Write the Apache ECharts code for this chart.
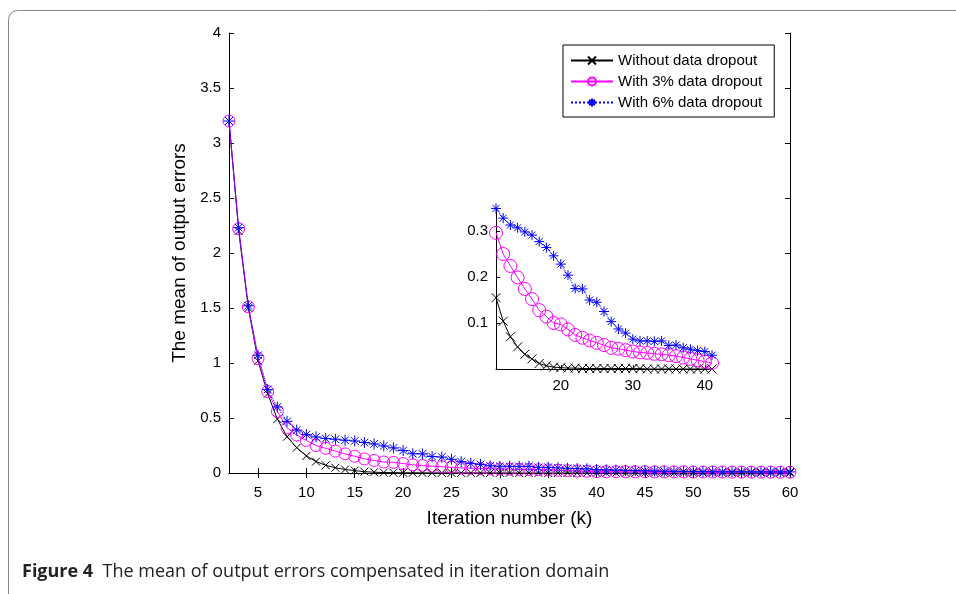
<!DOCTYPE html>
<html>
<head>
<meta charset="utf-8">
<script src="https://cdn.jsdelivr.net/npm/echarts@6/dist/echarts.min.js"></script>
<style>
  html, body { margin: 0; padding: 0; background: #fff; }
  #chart { width: 956px; height: 594px; }
</style>
</head>
<body>
<div id="chart"></div>
<script>
// iteration k = 2..60
const iterations = [2, 3, 4, 5, 6, 7, 8, 9, 10, 11, 12, 13, 14, 15, 16, 17, 18, 19, 20, 21,
  22, 23, 24, 25, 26, 27, 28, 29, 30, 31, 32, 33, 34, 35, 36, 37, 38, 39, 40, 41,
  42, 43, 44, 45, 46, 47, 48, 49, 50, 51, 52, 53, 54, 55, 56, 57, 58, 59, 60];

const withoutDropout = [3.2, 2.2, 1.5, 1.02, 0.72, 0.49, 0.33, 0.23, 0.155, 0.104, 0.07, 0.048, 0.032, 0.022, 0.012, 0.007, 0.004, 0.003, 0.002, 0.002,
  0.001, 0.001, 0.001, 0.001, 0.001, 0.001, 0.001, 0.001, 0.001, 0, 0, 0, 0, 0, 0, 0, 0, 0, 0, 0,
  0, 0, 0, 0, 0, 0, 0, 0, 0, 0, 0, 0, 0, 0, 0, 0, 0, 0, 0];

const dropout3 = [3.2, 2.22, 1.51, 1.04, 0.74, 0.56, 0.41, 0.345, 0.296, 0.25, 0.224, 0.199, 0.174, 0.152, 0.128, 0.114, 0.10, 0.097, 0.086, 0.074,
  0.068, 0.062, 0.057, 0.052, 0.046, 0.044, 0.041, 0.038, 0.036, 0.035, 0.033, 0.032, 0.030, 0.028, 0.025, 0.022, 0.019, 0.016, 0.013, 0.012,
  0.012, 0.011, 0.011, 0.011, 0.010, 0.010, 0.010, 0.010, 0.009, 0.009, 0.009, 0.009, 0.008, 0.008, 0.008, 0.008, 0.008, 0.007, 0.007];

const dropout6 = [3.2, 2.23, 1.52, 1.07, 0.76, 0.60, 0.47, 0.39, 0.349, 0.328, 0.313, 0.307, 0.298, 0.291, 0.277, 0.264, 0.246, 0.228, 0.204, 0.175,
  0.174, 0.15, 0.145, 0.125, 0.103, 0.087, 0.078, 0.065, 0.061, 0.061, 0.060, 0.061, 0.051, 0.052, 0.046, 0.043, 0.040, 0.038, 0.030, 0.028,
  0.026, 0.024, 0.022, 0.020, 0.018, 0.016, 0.015, 0.014, 0.013, 0.012, 0.012, 0.011, 0.011, 0.011, 0.010, 0.010, 0.010, 0.010, 0.010];

const seriesNames = ['Without data dropout', 'With 3% data dropout', 'With 6% data dropout'];

const xTicks = [5, 10, 15, 20, 25, 30, 35, 40, 45, 50, 55, 60];

// zoomed view: iterations 10..40 of the main curves, drawn on an axis labelled 11..41
const insetFrom = 10;
const insetIterations = [11, 12, 13, 14, 15, 16, 17, 18, 19, 20, 21, 22, 23, 24, 25, 26,
  27, 28, 29, 30, 31, 32, 33, 34, 35, 36, 37, 38, 39, 40, 41];
const insetXTicks = [20, 30, 40];
const insetYTicks = [0.1, 0.2, 0.3];

const FONT = 'Liberation Sans';
const CROSS = 'path://M0,0L10,10M10,0L0,10';
const STAR = 'path://M5,0L5,10M0,5L10,5M1.5,1.5L8.5,8.5M8.5,1.5L1.5,8.5';

const pairs = (values) => iterations.map((k, i) => [k, values[i]]);
const insetPairs = (values) => {
  const start = iterations.indexOf(insetFrom);
  return insetIterations.map((k, i) => [k, values[start + i]]);
};

const styles = [
  { color: '#000000', symbol: CROSS, size: 8, insetSize: 9, type: 'solid', fill: '#000000' },
  { color: '#ff00ff', symbol: 'circle', size: 12, insetSize: 13, type: 'solid', fill: 'rgba(255,255,255,0)' },
  { color: '#0000ff', symbol: STAR, size: 11, insetSize: 10, type: 'dotted', fill: '#0000ff' }
];

const makeSeries = (idx, axisIdx, data, size) => ({
  name: seriesNames[idx],
  type: 'line',
  xAxisIndex: axisIdx,
  yAxisIndex: axisIdx,
  data: data,
  symbol: styles[idx].symbol,
  symbolSize: size,
  showAllSymbol: true,
  animation: false,
  lineStyle: { color: styles[idx].color, width: 1, type: styles[idx].type },
  itemStyle: { color: styles[idx].fill, borderColor: styles[idx].color, borderWidth: 1 },
  emphasis: { disabled: true },
  z: 3 + idx
});

const tickLabel = { color: '#000', fontFamily: FONT, fontSize: 15 };
const axisLine = { show: true, lineStyle: { color: '#000', width: 1 } };

const chart = echarts.init(document.getElementById('chart'));
chart.setOption({
  backgroundColor: '#fff',
  animation: false,
  grid: [
    { left: 229, top: 33, right: 166, bottom: 121 },
    { left: 496, top: 208, width: 216, height: 161 }
  ],
  legend: {
    data: seriesNames,
    orient: 'vertical',
    left: 563,
    top: 45,
    padding: [8, 12, 7, 7],
    itemWidth: 42,
    itemHeight: 10,
    itemGap: 6,
    backgroundColor: '#fff',
    borderColor: '#000',
    borderWidth: 1,
    textStyle: { color: '#000', fontFamily: FONT, fontSize: 15 }
  },
  xAxis: [
    {
      type: 'value', gridIndex: 0, min: 2, max: 60,
      name: 'Iteration number (k)', nameLocation: 'middle', nameGap: 36,
      nameTextStyle: { color: '#000', fontFamily: FONT, fontSize: 19 },
      axisLine: axisLine,
      axisTick: { inside: true, length: 5, customValues: xTicks, lineStyle: { color: '#000' } },
      axisLabel: Object.assign({ customValues: xTicks, margin: 12 }, tickLabel),
      splitLine: { show: false }
    },
    {
      type: 'value', gridIndex: 1, min: 11, max: 41,
      axisLine: axisLine,
      axisTick: { inside: true, length: 4, customValues: insetXTicks, lineStyle: { color: '#000' } },
      axisLabel: Object.assign({ customValues: insetXTicks, margin: 9 }, tickLabel),
      splitLine: { show: false }
    },
    {
      type: 'value', gridIndex: 0, min: 2, max: 60, position: 'top',
      axisLine: axisLine,
      axisTick: { inside: true, length: 5, customValues: xTicks, lineStyle: { color: '#000' } },
      axisLabel: { show: false },
      splitLine: { show: false }
    }
  ],
  yAxis: [
    {
      type: 'value', gridIndex: 0, min: 0, max: 4, interval: 0.5,
      name: 'The mean of output errors', nameLocation: 'middle', nameGap: 36,
      nameTextStyle: { color: '#000', fontFamily: FONT, fontSize: 19 },
      axisLine: axisLine,
      axisTick: { inside: true, length: 5, lineStyle: { color: '#000' } },
      axisLabel: Object.assign({ margin: 8 }, tickLabel),
      splitLine: { show: false }
    },
    {
      type: 'value', gridIndex: 1, min: 0, max: 0.35,
      axisLine: axisLine,
      axisTick: { inside: true, length: 4, customValues: insetYTicks, lineStyle: { color: '#000' } },
      axisLabel: Object.assign({ customValues: insetYTicks, margin: 8 }, tickLabel),
      splitLine: { show: false }
    },
    {
      type: 'value', gridIndex: 0, min: 0, max: 4, interval: 0.5, position: 'right',
      axisLine: axisLine,
      axisTick: { inside: true, length: 5, lineStyle: { color: '#000' } },
      axisLabel: { show: false },
      splitLine: { show: false }
    }
  ],
  series: [
    makeSeries(0, 0, pairs(withoutDropout), styles[0].size),
    makeSeries(1, 0, pairs(dropout3), styles[1].size),
    makeSeries(2, 0, pairs(dropout6), styles[2].size),
    makeSeries(0, 1, insetPairs(withoutDropout), styles[0].insetSize),
    makeSeries(1, 1, insetPairs(dropout3), styles[1].insetSize),
    makeSeries(2, 1, insetPairs(dropout6), styles[2].insetSize)
  ],
  graphic: [
    {
      type: 'rect', silent: true, z: -1,
      shape: { x: 8.5, y: 10.5, width: 970, height: 600, r: 9 },
      style: { fill: 'none', stroke: '#8a8a8a', lineWidth: 1 }
    },
    {
      type: 'text', left: 22, top: 563, silent: true,
      style: {
        text: '{b|Figure 4}  The mean of output errors compensated in iteration domain',
        fontFamily: 'Open Sans', fontSize: 18, fill: '#222',
        rich: { b: { fontFamily: 'Open Sans', fontSize: 18, fontWeight: 'bold', fill: '#222' } }
      }
    }
  ]
});
</script>
</body>
</html>
